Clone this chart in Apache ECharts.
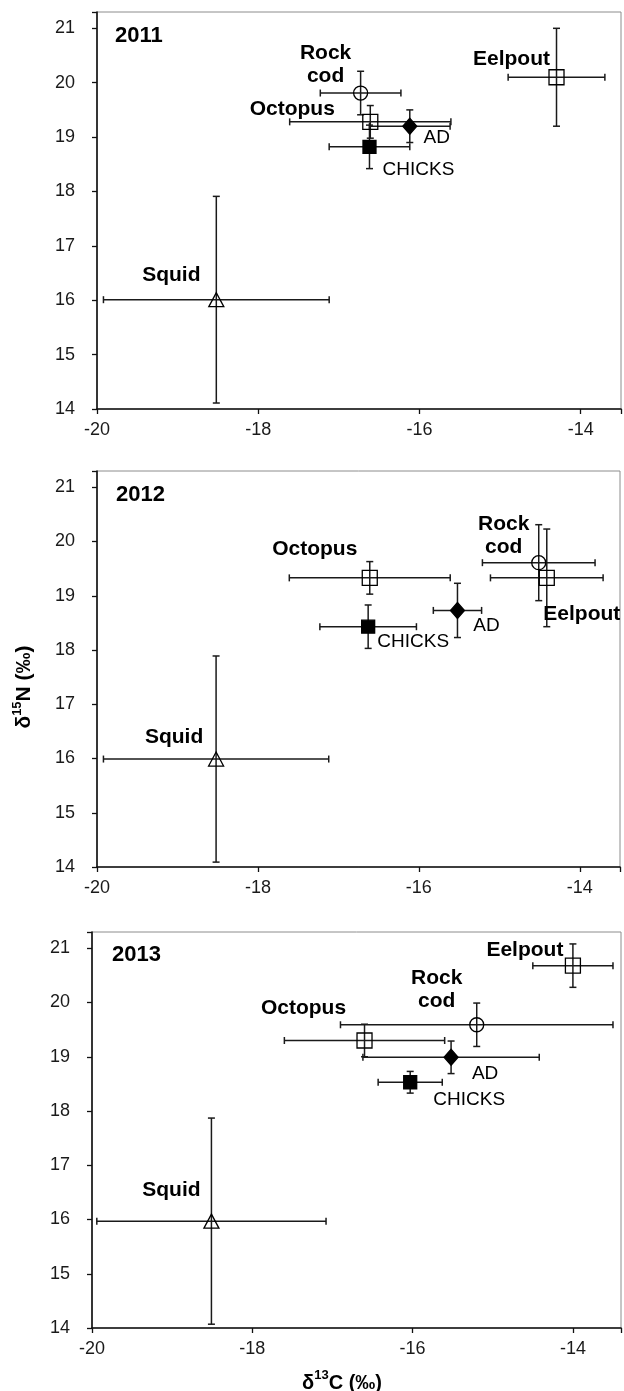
<!DOCTYPE html>
<html>
<head>
<meta charset="utf-8">
<script src="https://cdn.jsdelivr.net/npm/echarts@6/dist/echarts.min.js"></script>
<style>
html,body{margin:0;padding:0;background:#fff;}
#chart{width:624px;height:1391px;}
</style>
</head>
<body>
<div id="chart"></div>
<script>
// ---------- DATA ----------
const years = ['2011', '2012', '2013'];
const species = ['Rock cod', 'Octopus', 'AD', 'CHICKS', 'Eelpout', 'Squid'];
const speciesLabels = ['Rock\ncod', 'Octopus', 'AD', 'CHICKS', 'Eelpout', 'Squid'];

// δ13C means, δ15N means, and their error (±) values, per year
const c2011 = [-16.73, -16.61, -16.12, -16.62, -14.30, -18.52];
const n2011 = [19.81, 19.28, 19.20, 18.82, 20.10, 16.01];
const cErr2011 = [0.5, 1.0, 0.5, 0.5, 0.6, 1.4];
const nErr2011 = [0.4, 0.3, 0.3, 0.4, 0.9, 1.9];

const c2012 = [-14.51, -16.61, -15.52, -16.63, -14.41, -18.52];
const n2012 = [19.61, 19.33, 18.73, 18.43, 19.33, 15.99];
const cErr2012 = [0.7, 1.0, 0.3, 0.6, 0.7, 1.4];
const nErr2012 = [0.7, 0.3, 0.5, 0.4, 0.9, 1.9];

const c2013 = [-15.20, -16.60, -15.52, -16.03, -14.00, -18.51];
const n2013 = [19.59, 19.30, 18.99, 18.53, 20.68, 15.97];
const cErr2013 = [1.7, 1.0, 1.1, 0.4, 0.5, 1.43];
const nErr2013 = [0.4, 0.3, 0.3, 0.2, 0.4, 1.9];

const xTicks = [-20, -18, -16, -14];
const yTicks = [14, 15, 16, 17, 18, 19, 20, 21];

// ---------- STYLE / LAYOUT ----------
const panels = [
  {c: c2011, n: n2011, ce: cErr2011, ne: nErr2011, grid: {left: 97, top: 12, width: 524, height: 397}, xMax: -13.5, yearPos: [115, 36],
   offsets: [[-35, -28], [-78, -13], [27, 12], [49, 23], [-45, -18], [-45, -24]]},
  {c: c2012, n: n2012, ce: cErr2012, ne: nErr2012, grid: {left: 97, top: 471, width: 523, height: 396}, xMax: -13.5, yearPos: [116, 495],
   offsets: [[-35, -27], [-55, -29], [29, 15], [45, 15], [35, 36], [-42, -22]]},
  {c: c2013, n: n2013, ce: cErr2013, ne: nErr2013, grid: {left: 92, top: 932, width: 530, height: 396}, xMax: -13.4, yearPos: [112, 955],
   offsets: [[-40, -35], [-61, -32], [34, 16], [59, 18], [-48, -15], [-40, -31]]}
];

const symbolStyle = {
  'Rock cod': {symbol: 'circle', size: 14, fill: 'rgba(0,0,0,0)'},
  'Octopus': {symbol: 'rect', size: 15, fill: 'rgba(0,0,0,0)'},
  'AD': {symbol: 'diamond', size: [14, 16], fill: '#000'},
  'CHICKS': {symbol: 'rect', size: 13, fill: '#000'},
  'Eelpout': {symbol: 'rect', size: 15, fill: 'rgba(0,0,0,0)'},
  'Squid': {symbol: 'triangle', size: [15, 14], fill: 'rgba(0,0,0,0)'}
};

const FONT = '"Liberation Sans", Arial, "DejaVu Sans", sans-serif';
const LINE = '#1a1a1a';

const grids = [], xAxes = [], yAxes = [], series = [], graphics = [];

panels.forEach((p, i) => {
  grids.push(Object.assign({show: true, borderColor: '#8c8c8c', borderWidth: 1, backgroundColor: '#fff'}, p.grid));
  xAxes.push({
    type: 'value', gridIndex: i, min: xTicks[0], max: p.xMax, interval: 2,
    axisLine: {show: true, onZero: false, lineStyle: {color: '#111', width: 1.6}},
    axisTick: {show: true, inside: false, length: 5, lineStyle: {color: '#111', width: 1.3}},
    axisLabel: {fontFamily: FONT, fontSize: 18, color: '#1a1a1a', margin: 12,
      formatter: v => xTicks.indexOf(v) >= 0 ? String(v) : ''},
    splitLine: {show: false}
  });
  yAxes.push({
    type: 'value', gridIndex: i, min: yTicks[0], max: 21.3, interval: 1,
    axisLine: {show: true, onZero: false, lineStyle: {color: '#111', width: 1.6}},
    axisTick: {show: true, inside: false, length: 5, lineStyle: {color: '#111', width: 1.3}},
    axisLabel: {fontFamily: FONT, fontSize: 18, color: '#1a1a1a', margin: 22,
      formatter: v => yTicks.indexOf(v) >= 0 ? String(v) : ''},
    splitLine: {show: false}
  });

  const errData = species.map((s, k) => [p.c[k], p.n[k], p.ce[k], p.ne[k]]);
  series.push({
    type: 'custom', xAxisIndex: i, yAxisIndex: i, z: 2, silent: true,
    data: errData,
    renderItem: function (params, api) {
      const x = api.value(0), y = api.value(1), ex = api.value(2), ey = api.value(3);
      const l = api.coord([x - ex, y]), r = api.coord([x + ex, y]);
      const t = api.coord([x, y + ey]), b = api.coord([x, y - ey]);
      const cap = 3.5;
      const st = {stroke: LINE, lineWidth: 1.5};
      const mk = (x1, y1, x2, y2) => ({type: 'line', shape: {x1, y1, x2, y2}, style: st});
      return {type: 'group', children: [
        mk(l[0], l[1], r[0], r[1]),
        mk(l[0], l[1] - cap, l[0], l[1] + cap),
        mk(r[0], r[1] - cap, r[0], r[1] + cap),
        mk(t[0], t[1], b[0], b[1]),
        mk(t[0] - cap, t[1], t[0] + cap, t[1]),
        mk(b[0] - cap, b[1], b[0] + cap, b[1])
      ]};
    }
  });

  series.push({
    type: 'scatter', xAxisIndex: i, yAxisIndex: i, z: 3, silent: true,
    data: species.map((s, k) => {
      const sty = symbolStyle[s];
      const bold = !(s === 'AD' || s === 'CHICKS');
      return {
        name: s,
        value: [p.c[k], p.n[k]],
        symbol: sty.symbol,
        symbolSize: sty.size,
        itemStyle: {color: sty.fill, borderColor: '#000', borderWidth: 1.3, opacity: 1},
        label: {
          show: true, position: 'inside', offset: p.offsets[k],
          formatter: speciesLabels[k],
          fontFamily: FONT, fontSize: bold ? 21 : 19, fontWeight: bold ? 'bold' : 'normal',
          color: '#000', lineHeight: 23, align: 'center', textBorderWidth: 0
        }
      };
    })
  });

  graphics.push({
    type: 'text', x: p.yearPos[0], y: p.yearPos[1], z: 10,
    style: {text: years[i], font: 'bold 22px ' + FONT, fill: '#000', textAlign: 'left', textVerticalAlign: 'middle'}
  });
});

graphics.push({
  type: 'text', x: 23, y: 687, rotation: Math.PI / 2, z: 10,
  style: {
    text: '{a|δ}{s|15}{a|N (‰)}',
    textAlign: 'center', textVerticalAlign: 'middle',
    rich: {
      a: {fontFamily: FONT, fontSize: 21, fontWeight: 'bold', fill: '#000', lineHeight: 24, verticalAlign: 'bottom'},
      s: {fontFamily: FONT, fontSize: 13, fontWeight: 'bold', fill: '#000', lineHeight: 24, verticalAlign: 'top'}
    }
  }
});
graphics.push({
  type: 'text', x: 342, y: 1381, z: 10,
  style: {
    text: '{a|δ}{s|13}{a|C (‰)}',
    textAlign: 'center', textVerticalAlign: 'middle',
    rich: {
      a: {fontFamily: FONT, fontSize: 20, fontWeight: 'bold', fill: '#000', lineHeight: 24, verticalAlign: 'bottom'},
      s: {fontFamily: FONT, fontSize: 13, fontWeight: 'bold', fill: '#000', lineHeight: 24, verticalAlign: 'top'}
    }
  }
});

const chart = echarts.init(document.getElementById('chart'), null, {renderer: 'canvas'});
chart.setOption({
  animation: false,
  backgroundColor: '#fff',
  grid: grids,
  xAxis: xAxes,
  yAxis: yAxes,
  series: series,
  graphic: graphics
});
</script>
</body>
</html>
